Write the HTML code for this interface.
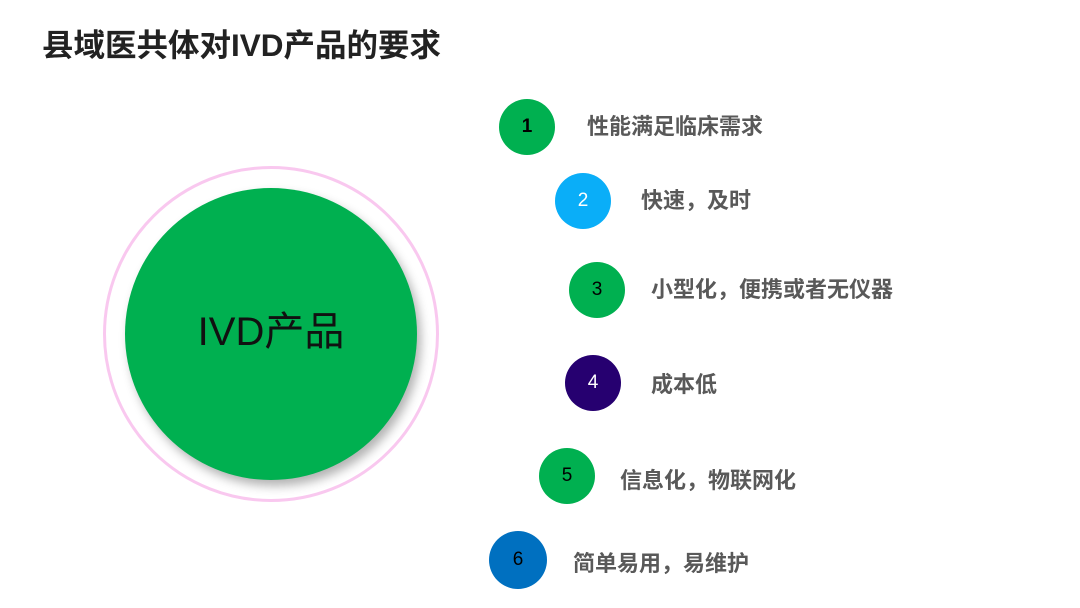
<!DOCTYPE html>
<html><head><meta charset="utf-8"><style>
body{margin:0;width:1080px;height:608px;background:#fff;position:relative;overflow:hidden;font-family:"Liberation Sans","Noto Sans CJK SC",sans-serif}
.t{position:absolute;left:42px;top:25px;font-size:31.5px;font-weight:bold;color:#222;white-space:nowrap;line-height:40px}
.ring{position:absolute;left:103px;top:166px;width:330px;height:330px;border:3px solid #f9c8ef;border-radius:50%}
.big{position:absolute;left:125px;top:188px;width:292px;height:292px;border-radius:50%;background:#00b050;box-shadow:4px 6px 10px rgba(0,0,0,.3);display:flex;align-items:center;justify-content:center;font-size:40px;color:#111}
.big span{position:relative;top:-6px}
.c{position:absolute;width:56px;height:56px;border-radius:50%;display:flex;align-items:center;justify-content:center;font-size:19px}
.l{position:absolute;font-size:22px;font-weight:bold;color:#595959;white-space:nowrap;line-height:26px}
</style></head><body>
<div class="t">县域医共体对IVD产品的要求</div>
<div class="ring"></div>
<div class="big"><span>IVD产品</span></div>
<div class="c" style="left:499px;top:99px;background:#00b050;color:#000;font-weight:bold">1</div>
<div class="l" style="left:587px;top:114px">性能满足临床需求</div>
<div class="c" style="left:555px;top:173px;background:#0aaef8;color:#fff">2</div>
<div class="l" style="left:641px;top:188px">快速，及时</div>
<div class="c" style="left:569px;top:262px;background:#00b050;color:#000">3</div>
<div class="l" style="left:651px;top:277px">小型化，便携或者无仪器</div>
<div class="c" style="left:565px;top:355px;background:#260070;color:#fff">4</div>
<div class="l" style="left:651px;top:372px">成本低</div>
<div class="c" style="left:539px;top:448px;background:#00b050;color:#000">5</div>
<div class="l" style="left:620px;top:468px">信息化，物联网化</div>
<div class="c" style="left:489px;top:531px;width:58px;height:58px;background:#0070c0;color:#000">6</div>
<div class="l" style="left:573px;top:551px">简单易用，易维护</div>
</body></html>
